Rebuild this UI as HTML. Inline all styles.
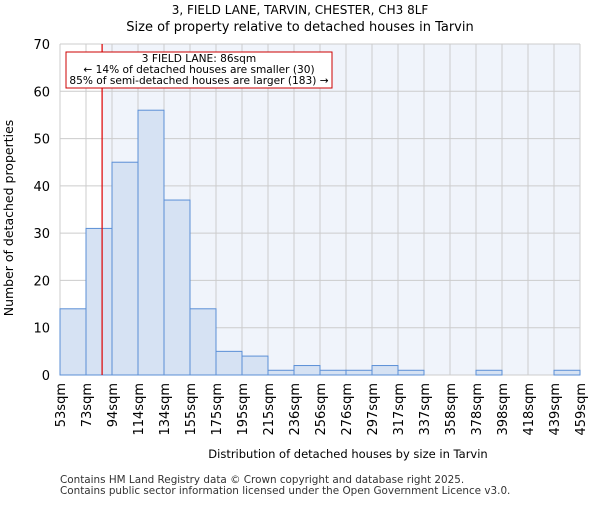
<!DOCTYPE html>
<html><head><meta charset="utf-8"><style>body{margin:0;background:#fff}svg{font-family:"DejaVu Sans","Liberation Sans",sans-serif}</style></head>
<body>
<svg id="chart" width="600" height="500" viewBox="0 0 600 500">
<text x="300" y="14" text-anchor="middle" font-size="12">3, FIELD LANE, TARVIN, CHESTER, CH3 8LF</text>
<text x="300" y="31" text-anchor="middle" font-size="13">Size of property relative to detached houses in Tarvin</text>
<g id="plot"></g>
<text x="348" y="458" text-anchor="middle" font-size="11.5">Distribution of detached houses by size in Tarvin</text>
<text transform="translate(13,218) rotate(-90)" text-anchor="middle" font-size="12.5">Number of detached properties</text>
<text x="60" y="483" font-size="10.4" fill="#333">Contains HM Land Registry data © Crown copyright and database right 2025.</text>
<text x="60" y="494" font-size="10.4" fill="#333">Contains public sector information licensed under the Open Government Licence v3.0.</text>
</svg>
<script>
const binLabels=["53sqm","73sqm","94sqm","114sqm","134sqm","155sqm","175sqm","195sqm","215sqm","236sqm","256sqm","276sqm","297sqm","317sqm","337sqm","358sqm","378sqm","398sqm","418sqm","439sqm","459sqm"];
const binEdges=[53,73,94,114,134,155,175,195,215,236,256,276,297,317,337,358,378,398,418,439,459];
const counts=[14,31,45,56,37,14,5,4,1,2,1,1,2,1,0,0,1,0,0,1];
const yTicks=[0,10,20,30,40,50,60,70];
const propertySize=86;
const NS="http://www.w3.org/2000/svg";
const L=60,R=580,T=44,B=375,yMax=70;
const n=counts.length,bw=(R-L)/n;
const xi=i=>L+i*bw;
const xv=v=>{for(let i=0;i<binEdges.length-1;i++){if(v<=binEdges[i+1])return xi(i)+bw*(v-binEdges[i])/(binEdges[i+1]-binEdges[i]);}return R;};
const y=v=>B-(B-T)*v/yMax;
const g=document.getElementById('plot');
function mk(t,a){const e=document.createElementNS(NS,t);for(const k in a)e.setAttribute(k,a[k]);g.appendChild(e);return e;}
const px=xv(propertySize);
let e=mk('rect',{x:px,y:T,width:R-px,height:B-T,fill:'#f0f4fb'});


yTicks.forEach(t=>{const l=mk('line',{x1:L,x2:R,y1:y(t),y2:y(t),stroke:'#ccc'});


const tx=mk('text',{x:L-10,y:y(t)+5,'text-anchor':'end','font-size':13});tx.textContent=t;

});
binLabels.forEach((s,i)=>{const l=mk('line',{x1:xi(i),x2:xi(i),y1:T,y2:B,stroke:'#ccc'});


const tx=mk('text',{transform:`translate(${xi(i)+5},383) rotate(-90)`,'text-anchor':'end','font-size':13});tx.textContent=s;

});
counts.forEach((c,i)=>{if(!c)return;const r=mk('rect',{x:xi(i),y:y(c),width:bw,height:B-y(c),fill:'#d6e2f3',stroke:'#5b8fd6','stroke-width':1});

});
e=mk('line',{x1:px,x2:px,y1:T,y2:B,stroke:'#d00','stroke-width':1.2});


e=mk('rect',{x:66,y:52,width:266,height:36,fill:'#fff',stroke:'#c00'});


["3 FIELD LANE: 86sqm","← 14% of detached houses are smaller (30)","85% of semi-detached houses are larger (183) →"].forEach((s,i)=>{const tx=mk('text',{x:199,y:62+i*11,'text-anchor':'middle','font-size':10.6});tx.textContent=s;

});
</script>
</body></html>
